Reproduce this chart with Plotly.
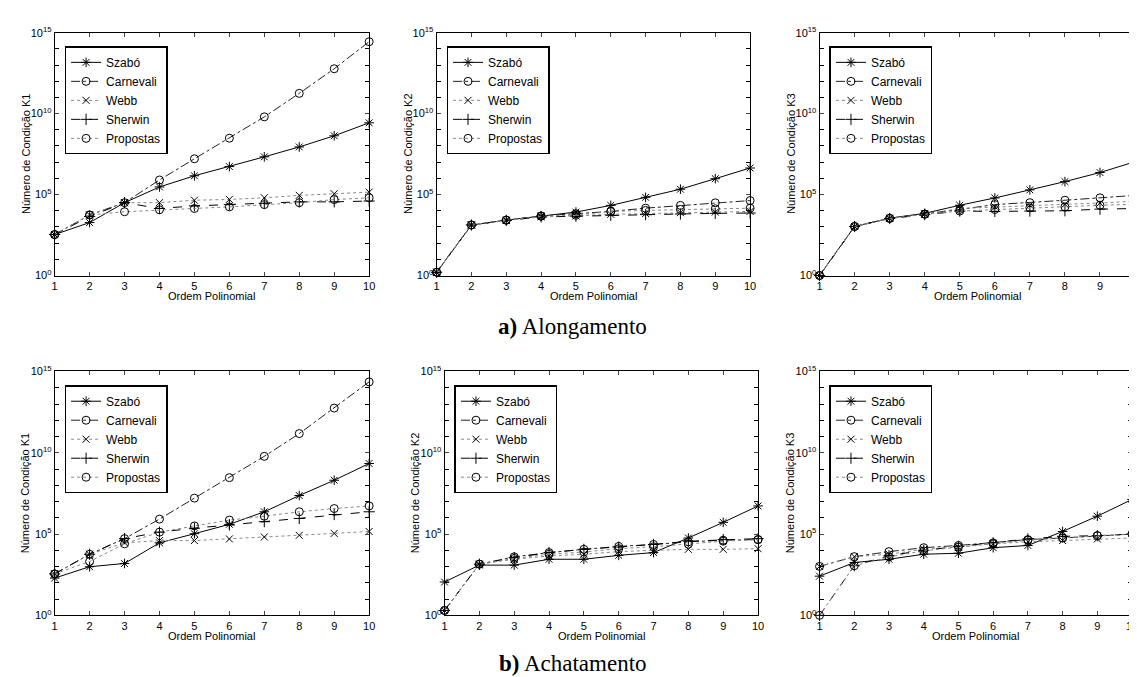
import numpy as np
import plotly.graph_objects as go

# ---------------- data (log10 of condition number) ----------------
ordem = [1, 2, 3, 4, 5, 6, 7, 8, 9, 10]
series_names = ["Szabó", "Carnevali", "Webb", "Sherwin", "Propostas"]

# a) Alongamento
k1_along_szabo = [2.53, 3.27, 4.50, 5.47, 6.16, 6.73, 7.33, 7.94, 8.63, 9.43]
k1_along_carnevali = [2.53, 3.74, 4.50, 5.90, 7.21, 8.48, 9.80, 11.25, 12.77, 14.44]
k1_along_webb = [2.53, 3.74, 4.50, 4.50, 4.65, 4.70, 4.80, 4.95, 5.05, 5.15]
k1_along_sherwin = [2.53, 3.64, 4.50, 4.14, 4.30, 4.38, 4.46, 4.55, 4.55, 4.60]
k1_along_propostas = [2.53, 3.74, 3.94, 4.06, 4.14, 4.24, 4.38, 4.50, 4.69, 4.80]

k2_along_szabo = [0.20, 3.12, 3.42, 3.68, 3.92, 4.33, 4.83, 5.33, 5.98, 6.64]
k2_along_carnevali = [0.20, 3.12, 3.42, 3.68, 3.82, 3.96, 4.16, 4.33, 4.49, 4.63]
k2_along_webb = [0.20, 3.12, 3.40, 3.62, 3.68, 3.78, 3.82, 3.88, 3.92, 3.96]
k2_along_sherwin = [0.20, 3.12, 3.40, 3.62, 3.66, 3.72, 3.76, 3.80, 3.84, 3.86]
k2_along_propostas = [0.20, 3.12, 3.42, 3.66, 3.72, 3.96, 4.02, 4.08, 4.12, 4.16]

k3_along_szabo = [0.00, 3.03, 3.54, 3.84, 4.34, 4.79, 5.29, 5.80, 6.36, 7.03]
k3_along_carnevali = [0.00, 3.03, 3.54, 3.80, 4.08, 4.38, 4.50, 4.65, 4.80, 4.95]
k3_along_webb = [0.00, 3.03, 3.52, 3.78, 4.14, 4.24, 4.34, 4.40, 4.48, 4.59]
k3_along_sherwin = [0.00, 3.03, 3.52, 3.76, 3.98, 3.96, 3.98, 4.00, 4.10, 4.14]
k3_along_propostas = [0.00, 3.03, 3.52, 3.78, 3.98, 4.08, 4.18, 4.24, 4.34, 4.40]

# b) Achatamento
k1_achat_szabo = [2.29, 2.99, 3.19, 4.46, 5.02, 5.60, 6.37, 7.37, 8.31, 9.34]
k1_achat_carnevali = [2.55, 3.76, 4.72, 5.92, 7.21, 8.47, 9.78, 11.18, 12.75, 14.36]
k1_achat_webb = [2.55, 3.76, 4.46, 4.60, 4.60, 4.70, 4.82, 4.92, 5.04, 5.16]
k1_achat_sherwin = [2.55, 3.76, 4.72, 5.12, 5.36, 5.56, 5.76, 5.96, 6.20, 6.37]
k1_achat_propostas = [2.55, 3.31, 4.40, 5.12, 5.50, 5.86, 6.10, 6.37, 6.57, 6.73]

k2_achat_szabo = [2.05, 3.09, 3.09, 3.45, 3.45, 3.69, 3.86, 4.76, 5.72, 6.73]
k2_achat_carnevali = [0.30, 3.15, 3.60, 3.86, 4.06, 4.24, 4.36, 4.52, 4.62, 4.66]
k2_achat_webb = [0.30, 3.15, 3.45, 3.65, 3.76, 3.92, 4.00, 4.06, 4.06, 4.10]
k2_achat_sherwin = [0.30, 3.15, 3.55, 3.86, 4.06, 4.20, 4.36, 4.56, 4.66, 4.72]
k2_achat_propostas = [0.30, 3.15, 3.50, 3.76, 3.90, 4.10, 4.22, 4.38, 4.56, 4.66]

k3_achat_szabo = [2.41, 3.25, 3.45, 3.76, 3.82, 4.16, 4.30, 5.16, 6.10, 7.13]
k3_achat_carnevali = [3.01, 3.61, 3.92, 4.16, 4.30, 4.46, 4.66, 4.76, 4.90, 5.00]
k3_achat_webb = [3.01, 3.61, 3.76, 4.06, 4.20, 4.40, 4.52, 4.60, 4.70, 4.76]
k3_achat_sherwin = [0.00, 3.05, 3.67, 4.00, 4.24, 4.46, 4.70, 4.86, 4.90, 5.00]
k3_achat_propostas = [0.00, 3.05, 3.60, 3.96, 4.20, 4.40, 4.62, 4.76, 4.90, 5.00]

y_titles = ["Número de Condição K1", "Número de Condição K2", "Número de Condição K3"]
x_title = "Ordem Polinomial"
captions = ["<b>a)</b> Alongamento", "<b>b)</b> Achatamento"]
y_decades = list(range(0, 16))
y_labelled = [0, 5, 10, 15]

panels = [
    [k1_along_szabo, k1_along_carnevali, k1_along_webb, k1_along_sherwin, k1_along_propostas],
    [k2_along_szabo, k2_along_carnevali, k2_along_webb, k2_along_sherwin, k2_along_propostas],
    [k3_along_szabo, k3_along_carnevali, k3_along_webb, k3_along_sherwin, k3_along_propostas],
    [k1_achat_szabo, k1_achat_carnevali, k1_achat_webb, k1_achat_sherwin, k1_achat_propostas],
    [k2_achat_szabo, k2_achat_carnevali, k2_achat_webb, k2_achat_sherwin, k2_achat_propostas],
    [k3_achat_szabo, k3_achat_carnevali, k3_achat_webb, k3_achat_sherwin, k3_achat_propostas],
]

# ---------------- layout geometry (pixels) ----------------
W, H = 1137, 677
px_cols = [[(44, 361), (429, 745), (815, 1133)],
           [(44, 361), (437, 753), (815, 1130)]]
px_rows = [(17, 265), (363, 612)]

styles = [
    dict(dash="solid", color="black", symbol="asterisk-open", size=8),
    dict(dash="dashdot", color="#222222", symbol="circle-open", size=8),
    dict(dash="dot", color="#888888", symbol="x-thin-open", size=7),
    dict(dash="dash", color="black", symbol="cross-thin-open", size=8),
    dict(dash="dot", color="#888888", symbol="circle-open", size=8),
]

FONT = "Liberation Sans, Arial, sans-serif"
fig = go.Figure()
layout = dict(
    width=W, height=H, margin=dict(l=0, r=0, t=0, b=0),
    paper_bgcolor="white", plot_bgcolor="white",
    font=dict(family=FONT, size=11, color="black"),
    annotations=[],
)

for p, pdata in enumerate(panels):
    r, c = divmod(p, 3)
    x0, x1 = px_cols[r][c]
    y0, y1 = px_rows[r]
    ax = "" if p == 0 else str(p + 1)
    lg = "legend" if p == 0 else "legend%d" % (p + 1)
    for s, vals in enumerate(pdata):
        st = styles[s]
        fig.add_trace(go.Scatter(
            x=ordem, y=np.power(10.0, vals), name=series_names[s],
            mode="lines+markers", cliponaxis=False,
            line=dict(color=st["color"], dash=st["dash"], width=1),
            marker=dict(symbol=st["symbol"], size=st["size"], color="black",
                        line=dict(color="black", width=1)),
            xaxis="x" + ax, yaxis="y" + ax, legend=lg,
        ))
    layout["xaxis" + ax] = dict(
        domain=[x0 / W, x1 / W], anchor="y" + ax, range=[1, 10],
        tickvals=ordem, ticks="inside", ticklen=4, showline=True, linecolor="black",
        linewidth=1, mirror="ticks", showgrid=False, zeroline=False,
        tickfont=dict(size=11, family=FONT), fixedrange=True,
    )
    layout["yaxis" + ax] = dict(
        domain=[1 - y1 / H, 1 - y0 / H], anchor="x" + ax, type="log", range=[0, 15],
        tickvals=[10.0 ** d for d in y_labelled],
        ticktext=["10<sup>%d</sup>" % d for d in y_labelled],
        ticks="inside", ticklen=4, showline=True, linecolor="black", linewidth=1,
        mirror="ticks", showgrid=False, zeroline=False,
        minor=dict(tickvals=[10.0 ** d for d in y_decades], ticks="inside", ticklen=4,
                   tickcolor="black", showgrid=False),
        tickfont=dict(size=11, family=FONT), fixedrange=True,
    )
    layout[lg] = dict(
        x=(x0 + 10) / W, y=1 - (y0 + 14) / H, xanchor="left", yanchor="top",
        xref="paper", yref="paper",
        bgcolor="white", bordercolor="black", borderwidth=1.5,
        font=dict(size=12, family=FONT), tracegroupgap=0, itemwidth=30,
    )
    # axis titles
    layout["annotations"].append(dict(
        text=y_titles[c], textangle=-90, x=(x0 - 29) / W, y=1 - ((y0 + y1) / 2) / H,
        xref="paper", yref="paper", showarrow=False, font=dict(size=11, family=FONT),
        xanchor="center", yanchor="middle"))
    layout["annotations"].append(dict(
        text=x_title, x=((x0 + x1) / 2) / W, y=1 - (y1 + 21) / H,
        xref="paper", yref="paper", showarrow=False, font=dict(size=11, family=FONT),
        xanchor="center", yanchor="middle"))

for i, cap in enumerate(captions):
    cy = [317, 661][i]
    layout["annotations"].append(dict(
        text=cap, x=566 / W, y=1 - cy / H, xref="paper", yref="paper", showarrow=False,
        font=dict(size=23, family="Liberation Serif, Times New Roman, serif"),
        xanchor="center", yanchor="middle"))

fig.update_layout(**layout)
fig.write_html("out.html")
